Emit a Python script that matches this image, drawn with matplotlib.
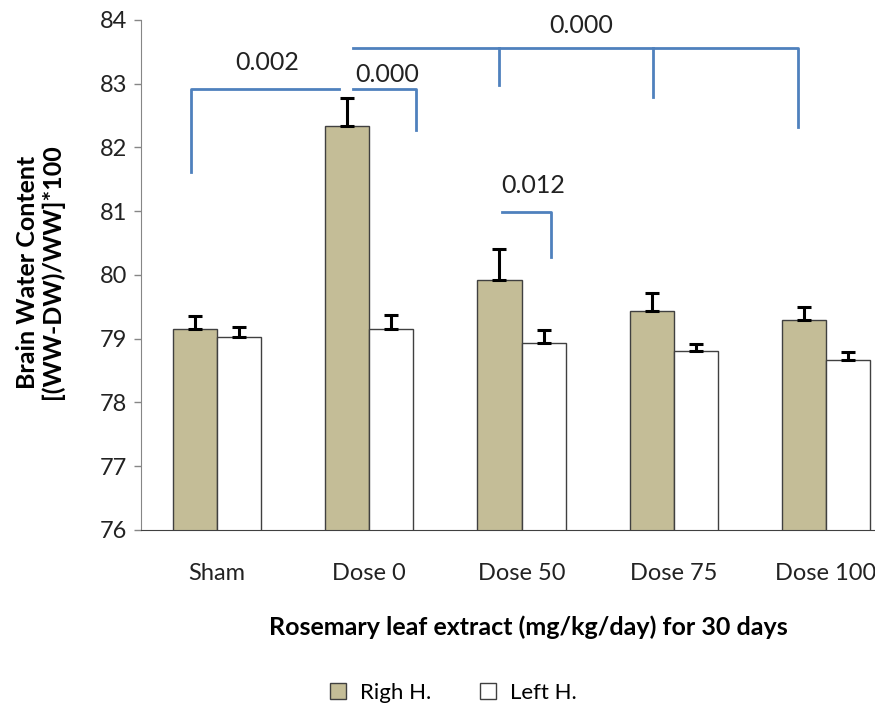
import numpy as np
import matplotlib
matplotlib.use('Agg')
import matplotlib.pyplot as plt

plt.rcParams['font.family'] = ['Lato', 'DejaVu Sans']

# data
groups = ['Sham', 'Dose 0', 'Dose 50', 'Dose 75', 'Dose 100']
right_h = [79.15, 82.34, 79.92, 79.44, 79.29]
right_err = [0.20, 0.44, 0.49, 0.28, 0.21]
left_h = [79.03, 79.15, 78.93, 78.81, 78.67]
left_err = [0.16, 0.22, 0.21, 0.11, 0.12]

# significance brackets: (x points, y points) in data units, and labels
brackets = [
    ([-0.17, -0.17, 0.80], [81.62, 82.92, 82.92]),
    ([0.895, 1.31, 1.31], [82.92, 82.92, 82.27]),
    ([0.895, 3.816, 3.816], [83.56, 83.56, 82.32]),
    ([1.849, 1.849], [83.56, 82.98]),
    ([2.862, 2.862], [83.56, 82.79]),
    ([1.875, 2.191, 2.191], [80.99, 80.99, 80.28]),
]
p_labels = [(0.33, 83.34, '0.002'), (1.12, 83.15, '0.000'),
            (2.39, 83.92, '0.000'), (2.08, 81.41, '0.012')]

fig = plt.figure(figsize=(8.75, 7.11), dpi=100)
ax = fig.add_axes([0.161, 0.2546, 0.870, 0.7173])

x = np.arange(len(groups))
w = 0.29
ax.bar(x - w / 2, right_h, w, color='#C4BD97', edgecolor='#404040',
       linewidth=1, label='Righ H.', zorder=2)
ax.bar(x + w / 2, left_h, w, color='white', edgecolor='#404040',
       linewidth=1, label='Left H.', zorder=2)
ax.errorbar(x - w / 2, right_h, yerr=[np.zeros(5), right_err], fmt='none',
            ecolor='black', elinewidth=2.2, capsize=5, capthick=2.2, zorder=3)
ax.errorbar(x + w / 2, left_h, yerr=[np.zeros(5), left_err], fmt='none',
            ecolor='black', elinewidth=2.2, capsize=5, capthick=2.2, zorder=3)

for bx, by in brackets:
    ax.plot(bx, by, color='#4F81BD', lw=2, clip_on=False, zorder=4)
for tx, ty, t in p_labels:
    ax.text(tx, ty, t, ha='center', va='center', fontsize=18, color='#222222')

ax.set_xlim(-0.5, 4.5)
ax.set_ylim(76, 84)
ax.set_yticks(range(76, 85))
ax.set_xticks(x)
ax.set_xticklabels(groups)
ax.tick_params(axis='x', length=0, pad=24, labelsize=17, labelcolor='#222222')
ax.tick_params(axis='y', length=5, width=1, color='#868686', labelsize=17,
               pad=5, labelcolor='#222222')
for s in ['top', 'right']:
    ax.spines[s].set_visible(False)
ax.spines['left'].set_color('#868686')
ax.spines['bottom'].set_color('#404040')

ax.set_xlabel('Rosemary leaf extract (mg/kg/day) for 30 days', fontsize=18,
              fontweight='bold')
ax.xaxis.set_label_coords(0.509, -0.168)
fig.text(40 / 875, 1 - 272 / 711, 'Brain Water Content\n[(WW-DW)/WW]*100',
         rotation=90, ha='center', va='center', multialignment='center',
         fontsize=18, fontweight='bold', linespacing=1.1)

ax.legend(loc='center', bbox_to_anchor=(453 / 875, 18 / 711),
          bbox_transform=fig.transFigure, ncol=2, frameon=False,
          fontsize=16, handlelength=0.75, handleheight=0.75,
          handletextpad=0.6, columnspacing=2.2)

plt.savefig('out.png')
plt.close()
